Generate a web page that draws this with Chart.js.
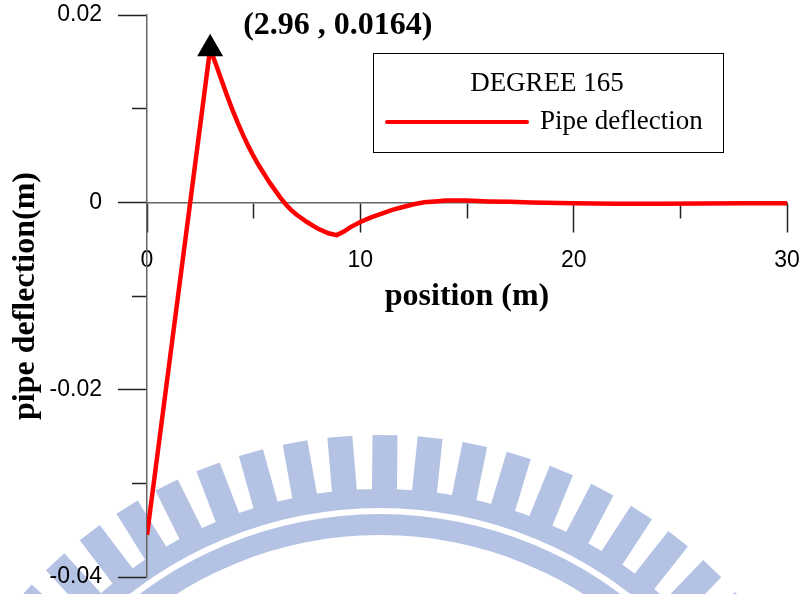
<!DOCTYPE html>
<html>
<head>
<meta charset="utf-8">
<title>Pipe deflection - DEGREE 165</title>
<script src="https://cdn.jsdelivr.net/npm/chart.js@4.4.0/dist/chart.umd.min.js"></script>
<style>
  html, body { margin: 0; padding: 0; background: #fff; }
  #wrap { position: relative; width: 804px; height: 594px; }
</style>
</head>
<body>
<div id="wrap"><canvas id="chart"></canvas></div>
<script>
// ===================== DATA =====================
const positions = [0, 2.96, 3.25, 3.5, 3.75, 4, 4.25, 4.5, 4.75, 5, 5.25, 5.5, 5.75, 6, 6.25,
  6.5, 6.75, 7, 7.5, 8, 8.5, 8.9, 9.25, 9.5, 10, 10.5, 11, 11.5, 12, 12.5,
  13, 13.5, 14, 15, 16, 17, 18, 20, 22, 24, 26, 28, 30];
const deflections = [-0.0355, 0.0164, 0.0146, 0.0130, 0.0114, 0.0099, 0.0085, 0.0072, 0.0060, 0.0049, 0.0039, 0.0030, 0.0021, 0.0013, 0.0005,
  -0.0002, -0.0008, -0.0013, -0.0021, -0.0028, -0.0033, -0.0035, -0.0031, -0.0027, -0.0021, -0.0016, -0.0012, -0.0008, -0.0005, -0.0002,
  0.0000, 0.0001, 0.0002, 0.0002, 0.0001, 0.00005, -0.00003, -0.0001, -0.00015, -0.00015, -0.00013, -0.0001, -0.0001];

const peakPoint = [2.96, 0.0164];          // marked with the black triangle
const peakLabel = '(2.96 , 0.0164)';

const xTicks = [0, 10, 20, 30];
const xTickLabels = ['0', '10', '20', '30'];
const yTicks = [-0.04, -0.02, 0, 0.02];
const yTickLabels = ['-0.04', '-0.02', '0', '0.02'];

const legendTitle = 'DEGREE 165';
const seriesName = 'Pipe deflection';

// ===================== HELPERS =====================
const RED = '#ff0000';
const SERIF = "'Liberation Serif', 'Times New Roman', serif";
const SANS = "'Liberation Sans', Arial, sans-serif";

const findTick = (list, v) => list.findIndex(t => Math.abs(t - v) < 1e-9);

// background watermark (school logo, light blue)
function drawWatermark(ctx) {
  const cx = 380, cy = 915;
  ctx.save();
  ctx.fillStyle = 'rgb(180,194,228)';
  ctx.beginPath();
  ctx.arc(cx, cy, 426, 0, Math.PI * 2);
  ctx.arc(cx, cy, 407, 0, Math.PI * 2, true);
  ctx.fill();
  ctx.beginPath();
  ctx.arc(cx, cy, 401, 0, Math.PI * 2);
  ctx.arc(cx, cy, 380, 0, Math.PI * 2, true);
  ctx.fill();
  for (let k = -14; k <= 14; k++) {
    const a = (0.6 + k * 5.4) * Math.PI / 180;
    ctx.save();
    ctx.translate(cx, cy);
    ctx.rotate(a);
    ctx.fillRect(-12.5, -480, 25, 57);
    ctx.restore();
  }
  ctx.restore();
}

const extras = {
  id: 'extras',
  beforeDraw(chart) {
    drawWatermark(chart.ctx);
  },
  afterDraw(chart) {
    const {ctx, chartArea, scales} = chart;
    ctx.save();

    // x axis title, under the axis that sits on y = 0
    ctx.fillStyle = '#000';
    ctx.font = `bold 32px ${SERIF}`;
    ctx.textAlign = 'center';
    ctx.textBaseline = 'middle';
    ctx.fillText('position (m)', (chartArea.left + chartArea.right) / 2, scales.y.getPixelForValue(0) + 94);

    // peak label
    ctx.textAlign = 'left';
    ctx.fillText(peakLabel, scales.x.getPixelForValue(peakPoint[0]) + 33, scales.y.getPixelForValue(peakPoint[1]) - 23);

    // legend box
    const bx = 373, by = 53, bw = 350, bh = 99;
    ctx.strokeStyle = '#000';
    ctx.lineWidth = 1;
    ctx.strokeRect(bx + 0.5, by + 0.5, bw, bh);
    ctx.font = `27px ${SERIF}`;
    ctx.textAlign = 'center';
    ctx.fillText(legendTitle, bx + 174, by + 31);
    const ds = chart.data.datasets[0];
    ctx.strokeStyle = ds.borderColor;
    ctx.lineWidth = 4;
    ctx.lineCap = 'round';
    ctx.beginPath();
    ctx.moveTo(bx + 14, by + 69);
    ctx.lineTo(bx + 154, by + 69);
    ctx.stroke();
    ctx.textAlign = 'left';
    ctx.fillText(ds.label, bx + 167, by + 69);

    ctx.restore();
  }
};

// ===================== CHART =====================
new Chart(document.getElementById('chart'), {
  type: 'line',
  data: {
    datasets: [
      {
        label: seriesName,
        data: positions.map((x, i) => ({x, y: deflections[i]})),
        borderColor: RED,
        borderWidth: 4.5,
        pointRadius: 0,
        tension: 0,
        fill: false,
      },
      {
        label: 'peak',
        data: [{x: peakPoint[0], y: peakPoint[1]}],
        showLine: false,
        pointStyle: 'triangle',
        pointRadius: 15,
        backgroundColor: '#000',
        borderColor: '#000',
        borderWidth: 0,
        order: -1,
        clip: false,
      }
    ]
  },
  options: {
    responsive: true,
    maintainAspectRatio: false,
    animation: false,
    layout: { autoPadding: false, padding: { left: 0, top: 15, right: 17, bottom: 17 } },
    plugins: { legend: { display: false }, tooltip: { enabled: false } },
    scales: {
      x: {
        type: 'linear',
        min: 0, max: 30,
        position: { y: 0 },
        // drawn across the middle: take no room and no label overhang
        afterFit: s => { s.height = 0; s.paddingLeft = 0; s.paddingRight = 0; },
        border: { color: '#666', width: 1.5 },
        grid: {
          drawOnChartArea: false,
          tickLength: 29,
          tickColor: '#222',
          tickWidth: 1.5,
          tickBorderDash: c => findTick(xTicks, c.tick.value) >= 0 ? [] : [15, 100],
        },
        ticks: {
          stepSize: 5, autoSkip: false, maxRotation: 0, padding: 16,
          color: '#000', font: { family: SANS, size: 23 },
          callback: v => { const i = findTick(xTicks, v); return i >= 0 ? xTickLabels[i] : ''; },
        },
      },
      y: {
        type: 'linear',
        min: -0.04, max: 0.02,
        position: 'left',
        afterFit: s => { s.width = 147; s.paddingTop = 0; s.paddingBottom = 0; },
        border: { color: '#666', width: 1.5 },
        grid: {
          drawOnChartArea: false,
          tickLength: 29,
          tickColor: '#222',
          tickWidth: 1.5,
          tickBorderDash: c => findTick(yTicks, c.tick.value) >= 0 ? [] : [0, 14, 15, 100],
        },
        ticks: {
          stepSize: 0.01, autoSkip: false, padding: 16,
          color: '#000', font: { family: SANS, size: 23 },
          callback: v => { const i = findTick(yTicks, v); return i >= 0 ? yTickLabels[i] : ''; },
        },
        title: {
          display: true, text: 'pipe deflection(m)', color: '#000',
          font: { family: SERIF, size: 32, weight: 'bold' },
          padding: { top: 7, bottom: 0 },
        },
      },
    },
  },
  plugins: [extras],
});
</script>
</body>
</html>
